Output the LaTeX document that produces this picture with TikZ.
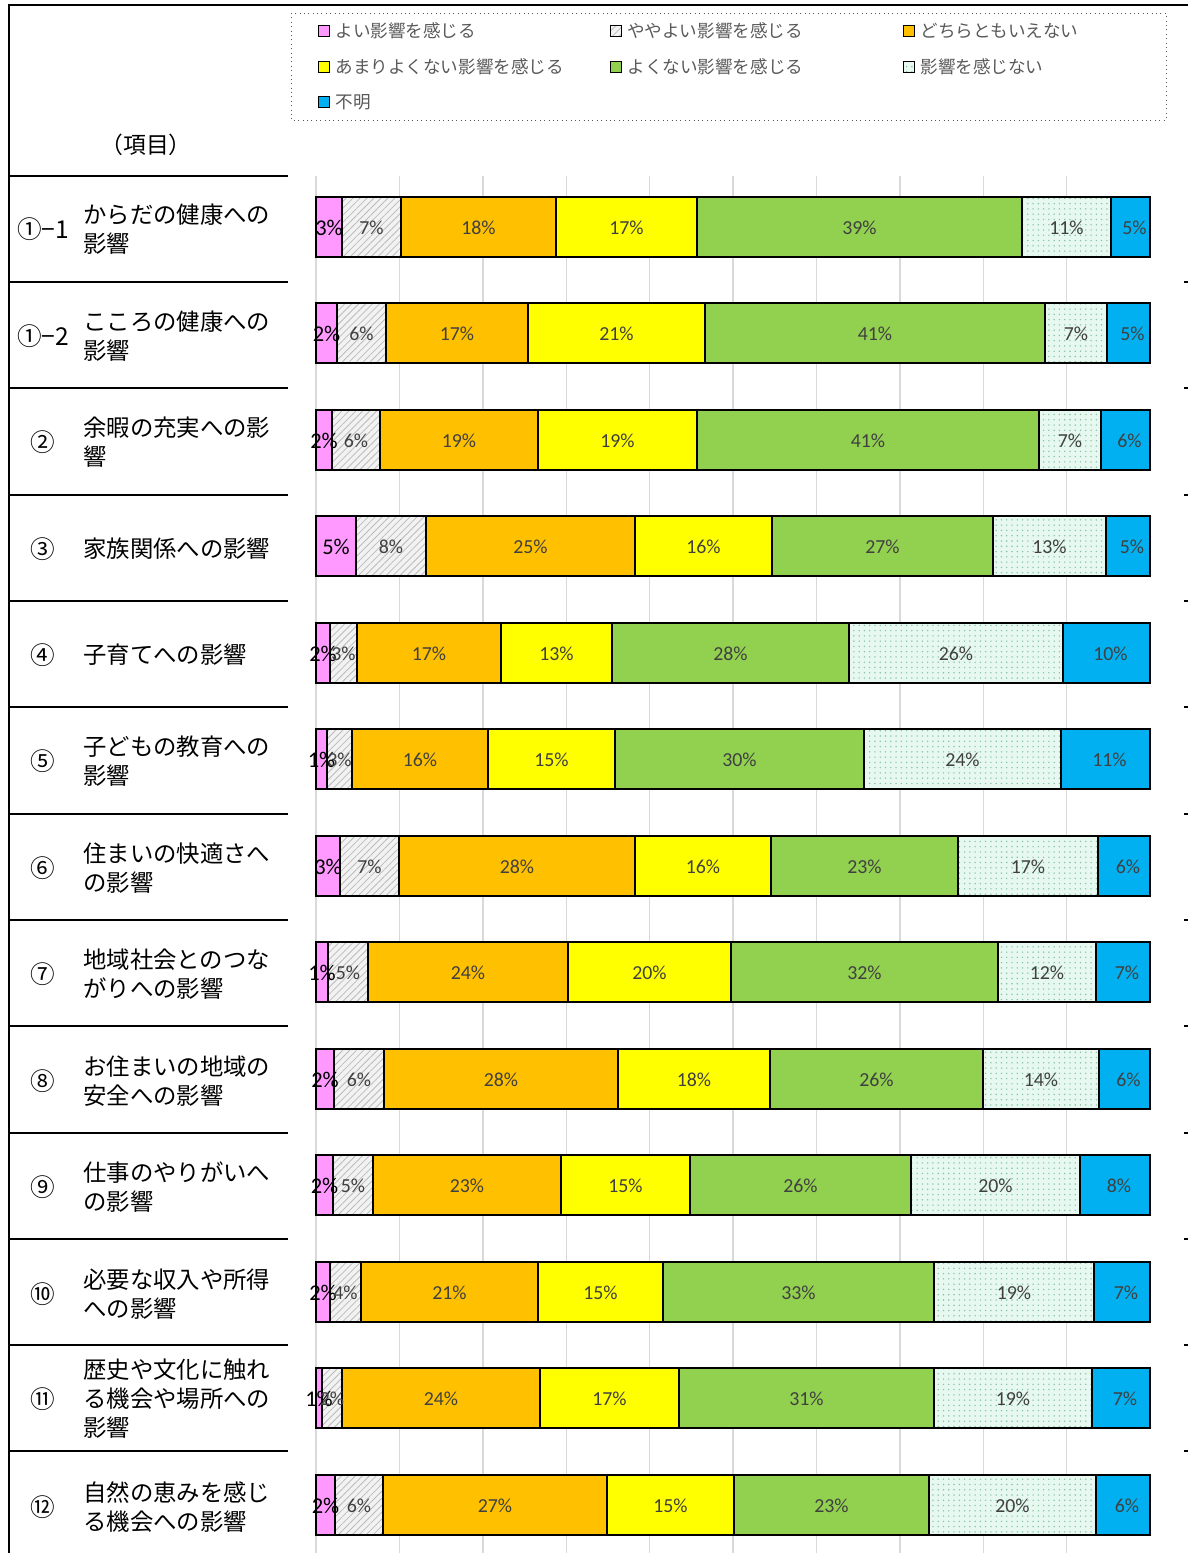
\documentclass[tikz,border=0pt]{standalone}
\usepackage{fontspec}
\setmainfont{Noto Sans CJK JP}
\newfontfamily\pctfont{Carlito}
\usetikzlibrary{positioning, patterns.meta}

\definecolor{goodpink}{HTML}{FF99FF}
\definecolor{hatchbg}{HTML}{F2F2F2}
\definecolor{hatchln}{HTML}{BBBBBB}
\definecolor{neutral}{HTML}{FFC000}
\definecolor{ratherbad}{HTML}{FFFF00}
\definecolor{badgreen}{HTML}{92D050}
\definecolor{mintbg}{HTML}{E6F8F0}
\definecolor{mintdot}{HTML}{86C4A2}
\definecolor{unknown}{HTML}{00B0F0}
\definecolor{gridgray}{HTML}{D9D9D9}
\definecolor{pctgray}{HTML}{404040}
\definecolor{leggray}{HTML}{595959}
\colorlet{labcol1}{black}
\colorlet{labcol2}{pctgray}
\colorlet{labcol3}{pctgray}
\colorlet{labcol4}{pctgray}
\colorlet{labcol5}{pctgray}
\colorlet{labcol6}{pctgray}
\colorlet{labcol7}{pctgray}

\begin{document}
\begin{tikzpicture}[x=0.02cm, y=-0.02cm]
    \tikzset{frame/.style={line width=1.2pt, black},
             gridline/.style={line width=0.8pt, gridgray},
             seg1/.style={fill=goodpink},
             seg2/.style={preaction={fill=hatchbg},
                 pattern={Lines[angle=45, distance=2.8pt, line width=0.45pt]},
                 pattern color=hatchln},
             seg3/.style={fill=neutral},
             seg4/.style={fill=ratherbad},
             seg5/.style={fill=badgreen},
             seg6/.style={preaction={fill=mintbg},
                 pattern={Dots[distance=3pt, radius=0.45pt]},
                 pattern color=mintdot},
             seg7/.style={fill=unknown},
             pct/.style={font=\pctfont\fontsize{11.3}{12}\selectfont, inner sep=0pt},
             pctbig/.style={font=\pctfont\fontsize{12.8}{13}\selectfont},
             itemnum/.style={font=\fontsize{14}{16.5}\selectfont, inner sep=0pt},
             itemtext/.style={font=\fontsize{13.3}{16.5}\selectfont, align=left,
                 anchor=west, inner sep=0pt},
             legbox/.style={draw=black, line width=0.8pt, minimum size=0.21cm,
                 inner sep=0pt},
             legtext/.style={font=\fontsize{10}{12}\selectfont, text=leggray,
                 inner sep=0pt}}
    \useasboundingbox (0,0) rectangle (1188,1553);

    % gridlines
    \foreach \gx in {0,...,9}
        \draw[gridline] ({316+83.4*\gx},176) -- ({316+83.4*\gx},1553);

    % frame and row lines
    \draw[frame] (1188,5) -- (9,5) -- (9,1553);
    \foreach \ly in {176,282,388,495,601,707,814,920,1026,1133,1239,1345,1451}
        \draw[frame] (9,\ly) -- (288,\ly);
    \foreach \ly in {282,388,495,601,707,814,920,1026,1133,1239,1345,1451}
        \draw[frame] (1184,\ly) -- (1188,\ly);

    % legend
    \draw[leggray, line width=0.5pt, dotted] (291,13) rectangle (1166,120);
    \node[legbox, seg1] (k1) at (324,31) {};
    \node[legtext, right=3pt of k1] (l1) {よい影響を感じる};
    \node[legbox, seg2] (k2) at (616,31) {};
    \node[legtext, right=3pt of k2] (l2) {ややよい影響を感じる};
    \node[legbox, seg3] (k3) at (909,31) {};
    \node[legtext, right=3pt of k3] (l3) {どちらともいえない};
    \node[legbox, seg4] (k4) at (324,67) {};
    \node[legtext, right=3pt of k4] (l4) {あまりよくない影響を感じる};
    \node[legbox, seg5] (k5) at (616,67) {};
    \node[legtext, right=3pt of k5] (l5) {よくない影響を感じる};
    \node[legbox, seg6] (k6) at (909,67) {};
    \node[legtext, right=3pt of k6] (l6) {影響を感じない};
    \node[legbox, seg7] (k7) at (324,102) {};
    \node[legtext, right=3pt of k7] (l7) {不明};

    \node[font=\fontsize{13}{15}\selectfont] (head) at (146,145) {（項目）};

    % item labels
    \foreach \y/\num/\txt [count=\k] in {
        229/①−1/{からだの健康への\\影響},
        336/①−2/{こころの健康への\\影響},
        442/②/{余暇の充実への影\\響},
        549/③/{家族関係への影響},
        655/④/{子育てへの影響},
        761/⑤/{子どもの教育への\\影響},
        868/⑥/{住まいの快適さへ\\の影響},
        974/⑦/{地域社会とのつな\\がりへの影響},
        1081/⑧/{お住まいの地域の\\安全への影響},
        1187/⑨/{仕事のやりがいへ\\の影響},
        1294/⑩/{必要な収入や所得\\への影響},
        1399/⑪/{歴史や文化に触れ\\る機会や場所への\\影響},
        1507/⑫/{自然の恵みを感じ\\る機会への影響}} {
        \node[itemnum] (n\k) at (43,\y) {\num};
        \node[itemtext] (t\k) at (83,\y) {\txt};
    }

    % stacked bars
    \foreach \y/\segs [count=\r] in {
        227/{316/342/3,342/401/7,401/556/18,556/697/17,697/1022/39,1022/1111/11,1111/1150/5},
        333/{316/337/2,337/386/6,386/528/17,528/705/21,705/1045/41,1045/1107/7,1107/1150/5},
        440/{316/332/2,332/380/6,380/538/19,538/697/19,697/1039/41,1039/1101/7,1101/1150/6},
        546/{316/356/5,356/426/8,426/635/25,635/772/16,772/993/27,993/1106/13,1106/1150/5},
        653/{316/330/2,330/357/3,357/501/17,501/612/13,612/849/28,849/1063/26,1063/1150/10},
        759/{316/327/1,327/352/3,352/488/16,488/615/15,615/864/30,864/1061/24,1061/1150/11},
        866/{316/340/3,340/399/7,399/635/28,635/771/16,771/958/23,958/1098/17,1098/1150/6},
        972/{316/328/1,328/368/5,368/568/24,568/731/20,731/998/32,998/1096/12,1096/1150/7},
        1079/{316/334/2,334/384/6,384/618/28,618/770/18,770/983/26,983/1099/14,1099/1150/6},
        1185/{316/333/2,333/373/5,373/561/23,561/690/15,690/911/26,911/1080/20,1080/1150/8},
        1292/{316/330/2,330/361/4,361/538/21,538/663/15,663/934/33,934/1094/19,1094/1150/7},
        1398/{316/322/1,322/342/2,342/540/24,540/679/17,679/934/31,934/1092/19,1092/1150/7},
        1505/{316/335/2,335/383/6,383/607/27,607/734/15,734/929/23,929/1096/20,1096/1150/6}} {
        \foreach \xa/\xb/\p [count=\i] in \segs {
            \draw[seg\i, draw=black, line width=0.8pt] (\xa,\y-30) rectangle (\xb,\y+30);
        }
        \foreach \xa/\xb/\p [count=\i] in \segs {
            \ifnum\i=1
                \node[pct, pctbig, text=labcol1] (p\r-\i) at ({(\xa+\xb)/2},\y+1) {\p\%};
            \else
                \node[pct, text=labcol\i] (p\r-\i) at ({(\xa+\xb)/2+(\i==7)*4},\y+1) {\p\%};
            \fi
        }
    }
\end{tikzpicture}
\end{document}
